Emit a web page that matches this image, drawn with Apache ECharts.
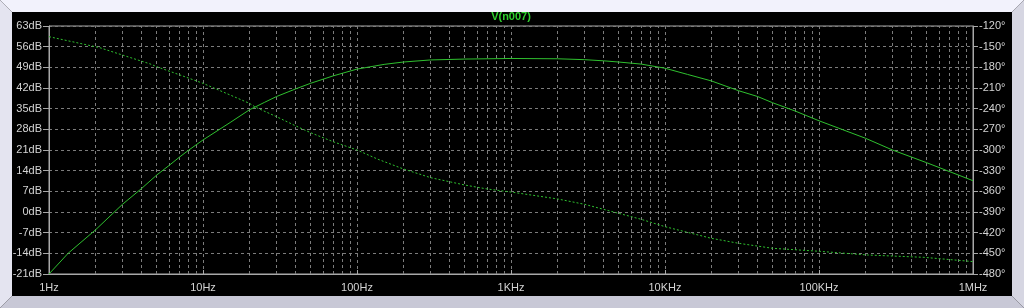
<!DOCTYPE html>
<html>
<head>
<meta charset="utf-8">
<script src="https://cdn.jsdelivr.net/npm/echarts@6/dist/echarts.min.js"></script>
<style>
html,body{margin:0;padding:0;background:#000;}
#chart{width:1024px;height:308px;}
</style>
</head>
<body>
<div id="chart"></div>
<script>
// ---- data ----
var magFreqs = [1, 1.33, 2, 3, 4, 5, 6, 7, 8, 10, 15, 20, 25, 30, 40, 50, 70, 100, 150, 200, 300, 500, 1000, 2000, 3000, 4000, 5000, 7000, 10000, 14000, 20000, 30000, 40000, 50000, 70000, 100000, 200000, 300000, 500000, 1000000];
var magDb = [-21, -14, -6.1, 2.6, 8.0, 12.5, 15.7, 18.5, 20.8, 24.4, 30.3, 34.6, 37.1, 39.1, 41.7, 43.6, 46.1, 48.4, 50.0, 50.8, 51.5, 51.8, 52.0, 51.9, 51.6, 51.2, 50.8, 50.1, 48.7, 46.6, 44.4, 41.1, 39.1, 37.0, 34.2, 30.9, 25.0, 21.0, 16.7, 10.6];
var phaseFreqs = [1, 2.14, 2.37, 4.53, 5, 7.27, 10, 20, 22, 30, 40, 50, 70, 100, 137, 200, 300, 500, 700, 1000, 2000, 3000, 5000, 7000, 10000, 20000, 30000, 50000, 100000, 206000, 480000, 1000000];
var phaseDeg = [-135.5, -151.5, -154.8, -175, -179, -192, -203.2, -232.2, -238, -251.6, -265, -274.9, -288, -300, -313.5, -327.5, -340.1, -350.8, -356.6, -361, -371, -378.8, -391.9, -400.6, -411.3, -428.2, -435.4, -442.7, -447, -452.4, -455.8, -462];
var xTickValues = [1, 10, 100, 1000, 10000, 100000, 1000000];
var xTickLabels = ['1Hz', '10Hz', '100Hz', '1KHz', '10KHz', '100KHz', '1MHz'];
var minorMultipliers = [2, 3, 4, 5, 6, 7, 8, 9];
var title = 'V(n007)';

var minorLines = [];
xTickValues.slice(0, -1).forEach(function (d) {
  minorMultipliers.forEach(function (m) { minorLines.push({ xAxis: d * m }); });
});

var magData = magFreqs.map(function (f, i) { return [f, magDb[i]]; });
var phaseData = phaseFreqs.map(function (f, i) { return [f, phaseDeg[i]]; });

var labelColor = '#d4d4d4';
var gridGray = '#7c7c7c';
var axisGray = '#a8a8a8';
var green = '#2fc02f';
var font = 'Liberation Sans, Arial, sans-serif';

var chart = echarts.init(document.getElementById('chart'), null, { renderer: 'canvas' });
chart.setOption({
  backgroundColor: '#000',
  animation: false,
  title: {
    text: title, left: 511, textAlign: 'center', top: 11, padding: 0,
    textStyle: { color: '#2ed02e', fontSize: 11, fontWeight: 'bold', fontFamily: font }
  },
  graphic: [
    { type: 'polygon', shape: { points: [[0, 0], [1024, 0], [1012, 12], [12, 12]] }, style: { fill: '#f2f2fc' }, silent: true },
    { type: 'polygon', shape: { points: [[0, 0], [12, 12], [12, 296], [0, 308]] }, style: { fill: '#e4e4f0' }, silent: true },
    { type: 'polygon', shape: { points: [[1024, 0], [1024, 308], [1012, 296], [1012, 12]] }, style: { fill: '#d6d6e2' }, silent: true },
    { type: 'polygon', shape: { points: [[0, 308], [12, 296], [1012, 296], [1024, 308]] }, style: { fill: '#c8c8d6' }, silent: true }
  ],
  grid: { left: 49, right: 51, top: 26, bottom: 34, show: true, borderColor: axisGray, borderWidth: 1, backgroundColor: 'transparent' },
  xAxis: {
    type: 'log', logBase: 10, min: 1, max: 1000000,
    axisLine: { show: true, onZero: false, lineStyle: { color: axisGray } },
    axisTick: { show: true, inside: true, length: 4, lineStyle: { color: axisGray } },
    axisLabel: {
      color: labelColor, fontSize: 11, fontFamily: font, margin: 8,
      formatter: function (v) { var i = xTickValues.indexOf(v); return i >= 0 ? xTickLabels[i] : ''; }
    },
    splitLine: { show: true, lineStyle: { color: gridGray, type: [3, 3], width: 1 } }
  },
  yAxis: [
    {
      type: 'value', min: -21, max: 63, interval: 7, position: 'left',
      axisLine: { show: true, lineStyle: { color: axisGray } },
      axisTick: { show: true, length: 6, lineStyle: { color: axisGray } },
      axisLabel: { color: labelColor, fontSize: 11, fontFamily: font, margin: 7, formatter: '{value}dB' },
      splitLine: { show: true, lineStyle: { color: gridGray, type: [3, 3], width: 1 } }
    },
    {
      type: 'value', min: -480, max: -120, interval: 30, position: 'right',
      axisLine: { show: true, lineStyle: { color: axisGray } },
      axisTick: { show: true, length: 5, lineStyle: { color: axisGray } },
      axisLabel: { color: labelColor, fontSize: 11, fontFamily: font, margin: 6, formatter: '{value}°' },
      splitLine: { show: false }
    }
  ],
  series: [
    {
      name: 'mag', type: 'line', data: magData, yAxisIndex: 0, smooth: false, symbol: 'none',
      lineStyle: { color: green, width: 1 }, z: 3,
      markLine: {
        silent: true, symbol: 'none', label: { show: false }, animation: false,
        lineStyle: { color: gridGray, type: [3, 3], width: 1 },
        data: minorLines, z: 1
      }
    },
    {
      name: 'phase', type: 'line', data: phaseData, yAxisIndex: 1, smooth: false, symbol: 'none',
      lineStyle: { color: green, width: 1, type: [2, 2] }, z: 3
    }
  ]
});
</script>
</body>
</html>
